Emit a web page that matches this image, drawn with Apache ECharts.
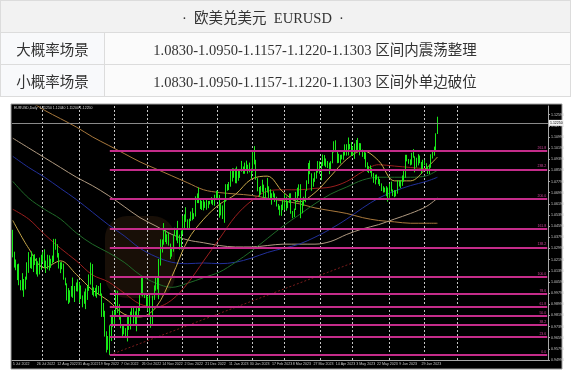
<!DOCTYPE html>
<html><head><meta charset="utf-8">
<script src="https://cdn.jsdelivr.net/npm/echarts@6/dist/echarts.min.js"></script>
<style>
html,body{margin:0;padding:0;background:#fff;width:571px;height:372px;overflow:hidden;}
#chart{position:absolute;left:0;top:0;width:571px;height:372px;}
table{position:absolute;left:0;top:0;width:571px;border-collapse:collapse;z-index:2;
  font-family:"Liberation Serif","Noto Sans CJK SC",serif;color:#333;font-size:14.5px;}
td{border:1px solid #dcdcdc;height:31px;padding:0;text-align:center;white-space:pre;}
td.hd{background:#f2f2f2;padding-right:45px;}
td.lc{width:103px;background:#f8f9fb;}
td.rc{background:#fbfbfb;padding-right:45px;}
</style></head>
<body>
<table id="tbl"></table>
<div id="chart"></div>
<script>
// ---------- table text ----------
const titleText = '·  欧美兑美元  EURUSD  ·';
const keyLevels = ['1.0830','1.0950','1.1157','1.1220','1.1303'];
const scenarioNames = ['大概率场景','小概率场景'];
const scenarioTexts = ['区间内震荡整理','区间外单边破位'];

// ---------- chart data (EURUSD daily, from 5 Jul 2022) ----------
const opens = [
1.0422,1.0266,1.0182,1.0160,
1.0185,1.0038,1.0035,1.0062,1.0019,
1.0080,1.0140,1.0225,1.0180,1.0230,
1.0212,1.0222,1.0122,1.0200,1.0195,
1.0220,1.0260,1.0165,1.0167,1.0245,
1.0180,1.0195,1.0212,1.0298,1.0320,
1.0260,1.0160,1.0170,1.0178,1.0088,
1.0040,0.9942,0.9966,0.9968,0.9970,
0.9964,1.0000,1.0020,1.0055,0.9945,
0.9955,0.9925,0.9903,1.0010,0.9998,
1.0041,1.0125,0.9970,0.9980,0.9996,
1.0015,1.0027,0.9970,0.9837,0.9838,
0.9690,0.9607,0.9592,0.9737,0.9814,
0.9800,0.9825,0.9987,0.9890,0.9792,
0.9743,0.9700,0.9707,0.9703,0.9780,
0.9722,0.9840,0.9857,0.9775,0.9782,
0.9862,0.9875,0.9965,1.0080,0.9966,
0.9966,0.9882,0.9874,0.9818,0.9748,
0.9960,1.0020,1.0073,1.0010,1.0208,
1.0356,1.0327,1.0352,1.0393,1.0362,
1.0325,1.0242,1.0302,1.0395,1.0405,
1.0400,1.0340,1.0330,1.0405,1.0520,
1.0535,1.0492,1.0468,1.0505,1.0557,
1.0533,1.0536,1.0630,1.0680,1.0625,
1.0585,1.0610,1.0625,1.0605,1.0593,
1.0617,1.0637,1.0640,1.0612,1.0660,
1.0705,1.0670,1.0547,1.0605,1.0520,
1.0645,1.0730,1.0735,1.0760,1.0850,
1.0830,1.0822,1.0788,1.0795,1.0832,
1.0855,1.0870,1.0885,1.0915,1.0890,
1.0868,1.0850,1.0862,1.0990,1.0910,
1.0795,1.0727,1.0725,1.0710,1.0740,
1.0678,1.0723,1.0740,1.0689,1.0675,
1.0693,1.0685,1.0650,1.0605,1.0595,
1.0545,1.0605,1.0577,1.0668,1.0596,
1.0633,1.0682,1.0550,1.0545,1.0582,
1.0640,1.0730,1.0732,1.0577,1.0610,
1.0668,1.0716,1.0770,1.0862,1.0832,
1.0760,1.0800,1.0842,1.0845,1.0905,
1.0838,1.0902,1.0955,1.0905,1.0920,
1.0900,1.0860,1.0912,1.0990,1.1045,
1.0990,1.0925,1.0970,1.0955,1.0966,
1.0990,1.1045,1.0975,1.1040,1.1025,
1.1015,1.0975,1.0995,1.1070,1.1010,
1.1020,1.1005,1.0962,1.0983,1.0915,
1.0850,1.0873,1.0862,1.0838,1.0770,
1.0805,1.0810,1.0770,1.0752,1.0725,
1.0720,1.0705,1.0735,1.0690,1.0760,
1.0708,1.0715,1.0695,1.0700,1.0780,
1.0750,1.0752,1.0790,1.0825,1.0945,
1.0940,1.0920,1.0915,1.0985,1.0955,
1.0895,1.0905,1.0960,1.0915,1.0865,
1.0910,1.0910,1.0880,1.0853,1.0890,
1.0968,1.0970,1.1010,1.1125];
const closes = [
1.0266,1.0182,1.0160,1.0185,
1.0038,1.0035,1.0062,1.0019,1.0080,
1.0140,1.0225,1.0180,1.0230,1.0212,
1.0222,1.0122,1.0200,1.0195,1.0220,
1.0260,1.0165,1.0167,1.0245,1.0180,
1.0195,1.0212,1.0298,1.0320,1.0260,
1.0160,1.0170,1.0178,1.0088,1.0040,
0.9942,0.9966,0.9968,0.9970,0.9964,
1.0000,1.0020,1.0055,0.9945,0.9955,
0.9925,0.9903,1.0010,0.9998,1.0041,
1.0125,0.9970,0.9980,0.9996,1.0015,
1.0027,0.9970,0.9837,0.9838,0.9690,
0.9607,0.9592,0.9737,0.9814,0.9800,
0.9825,0.9987,0.9890,0.9792,0.9743,
0.9700,0.9707,0.9703,0.9780,0.9722,
0.9840,0.9857,0.9775,0.9782,0.9862,
0.9875,0.9965,1.0080,0.9966,0.9966,
0.9882,0.9874,0.9818,0.9748,0.9960,
1.0020,1.0073,1.0010,1.0208,1.0356,
1.0327,1.0352,1.0393,1.0362,1.0325,
1.0242,1.0302,1.0395,1.0405,1.0400,
1.0340,1.0330,1.0405,1.0520,1.0535,
1.0492,1.0468,1.0505,1.0557,1.0533,
1.0536,1.0630,1.0680,1.0625,1.0585,
1.0610,1.0625,1.0605,1.0593,1.0617,
1.0637,1.0640,1.0612,1.0660,1.0705,
1.0670,1.0547,1.0605,1.0520,1.0645,
1.0730,1.0735,1.0760,1.0850,1.0830,
1.0822,1.0788,1.0795,1.0832,1.0855,
1.0870,1.0885,1.0915,1.0890,1.0868,
1.0850,1.0862,1.0990,1.0910,1.0795,
1.0727,1.0725,1.0710,1.0740,1.0678,
1.0723,1.0740,1.0689,1.0675,1.0693,
1.0685,1.0650,1.0605,1.0595,1.0545,
1.0605,1.0577,1.0668,1.0596,1.0633,
1.0682,1.0550,1.0545,1.0582,1.0640,
1.0730,1.0732,1.0577,1.0610,1.0668,
1.0716,1.0770,1.0862,1.0832,1.0760,
1.0800,1.0842,1.0845,1.0905,1.0838,
1.0902,1.0955,1.0905,1.0920,1.0900,
1.0860,1.0912,1.0990,1.1045,1.0990,
1.0925,1.0970,1.0955,1.0966,1.0990,
1.1045,1.0975,1.1040,1.1025,1.1015,
1.0975,1.0995,1.1070,1.1010,1.1020,
1.1005,1.0962,1.0983,1.0915,1.0850,
1.0873,1.0862,1.0838,1.0770,1.0805,
1.0810,1.0770,1.0752,1.0725,1.0720,
1.0705,1.0735,1.0690,1.0760,1.0708,
1.0715,1.0695,1.0700,1.0780,1.0750,
1.0752,1.0790,1.0825,1.0945,1.0940,
1.0920,1.0915,1.0985,1.0955,1.0895,
1.0905,1.0960,1.0915,1.0865,1.0910,
1.0910,1.0880,1.0853,1.0890,1.0968,
1.0970,1.1010,1.1125,1.1225];
const lows = [
1.0235,1.0162,1.0143,1.0072,
1.0035,0.9999,0.9998,0.9952,1.0005,
1.0075,1.0124,1.0158,1.0153,1.0130,
1.0180,1.0113,1.0097,1.0113,1.0146,
1.0200,1.0160,1.0123,1.0150,1.0141,
1.0160,1.0190,1.0202,1.0290,1.0234,
1.0155,1.0122,1.0150,1.0075,1.0035,
0.9926,0.9901,0.9911,0.9953,0.9945,
0.9915,0.9992,0.9990,0.9910,0.9936,
0.9877,0.9902,0.9864,0.9930,0.9995,
1.0040,0.9966,0.9955,0.9956,0.9945,
0.9966,0.9963,0.9808,0.9808,0.9667,
0.9553,0.9572,0.9535,0.9635,0.9737,
0.9750,0.9823,0.9836,0.9788,0.9727,
0.9670,0.9683,0.9665,0.9632,0.9715,
0.9718,0.9808,0.9760,0.9755,0.9705,
0.9807,0.9850,0.9962,0.9955,0.9943,
0.9880,0.9853,0.9812,0.9730,0.9746,
0.9930,0.9996,1.0005,0.9935,1.0176,
1.0270,1.0326,1.0345,1.0330,1.0320,
1.0223,1.0240,1.0276,1.0390,1.0356,
1.0337,1.0291,1.0292,1.0400,1.0445,
1.0490,1.0443,1.0438,1.0495,1.0501,
1.0510,1.0528,1.0625,1.0624,1.0582,
1.0575,1.0572,1.0590,1.0577,1.0588,
1.0615,1.0620,1.0610,1.0605,1.0660,
1.0653,1.0520,1.0536,1.0510,1.0483,
1.0634,1.0713,1.0718,1.0742,1.0779,
1.0806,1.0767,1.0766,1.0785,1.0805,
1.0850,1.0835,1.0835,1.0868,1.0836,
1.0845,1.0800,1.0845,1.0902,1.0792,
1.0709,1.0669,1.0685,1.0705,1.0659,
1.0658,1.0700,1.0659,1.0655,1.0613,
1.0665,1.0633,1.0600,1.0577,1.0536,
1.0533,1.0574,1.0575,1.0570,1.0588,
1.0625,1.0548,1.0516,1.0525,1.0575,
1.0633,1.0675,1.0516,1.0551,1.0605,
1.0631,1.0712,1.0762,1.0832,1.0713,
1.0742,1.0777,1.0800,1.0843,1.0835,
1.0788,1.0890,1.0893,1.0882,1.0876,
1.0832,1.0856,1.0910,1.0988,1.0990,
1.0911,1.0913,1.0908,1.0938,1.0935,
1.0966,1.0965,1.0966,1.1010,1.0962,
1.0967,1.0942,1.0990,1.1006,1.0967,
1.0996,1.0956,1.0940,1.0880,1.0848,
1.0840,1.0842,1.0813,1.0770,1.0759,
1.0793,1.0760,1.0747,1.0711,1.0700,
1.0702,1.0674,1.0635,1.0662,1.0707,
1.0675,1.0667,1.0673,1.0692,1.0743,
1.0732,1.0748,1.0778,1.0806,1.0924,
1.0906,1.0895,1.0900,1.0950,1.0845,
1.0880,1.0895,1.0910,1.0835,1.0860,
1.0896,1.0868,1.0834,1.0833,1.0878,
1.0944,1.0965,1.1000,1.1120];
const highs = [
1.0433,1.0276,1.0220,1.0186,
1.0190,1.0072,1.0122,1.0080,1.0097,
1.0200,1.0273,1.0237,1.0278,1.0254,
1.0258,1.0230,1.0207,1.0234,1.0254,
1.0275,1.0293,1.0212,1.0254,1.0250,
1.0225,1.0248,1.0368,1.0368,1.0330,
1.0266,1.0200,1.0201,1.0190,1.0090,
1.0049,1.0015,0.9999,1.0030,1.0091,
1.0030,1.0055,1.0078,1.0056,1.0034,
0.9962,0.9990,1.0012,1.0030,1.0113,
1.0198,1.0187,1.0020,1.0017,1.0036,
1.0030,1.0051,0.9976,0.9908,0.9852,
0.9705,0.9671,0.9748,0.9815,0.9853,
0.9854,0.9999,0.9996,0.9899,0.9808,
0.9753,0.9748,0.9728,0.9807,0.9809,
0.9846,0.9876,0.9875,0.9848,0.9871,
0.9876,0.9976,1.0089,1.0094,0.9978,
0.9975,0.9953,0.9977,0.9821,0.9960,
1.0034,1.0094,1.0096,1.0224,1.0365,
1.0364,1.0481,1.0436,1.0401,1.0415,
1.0334,1.0307,1.0397,1.0448,1.0430,
1.0497,1.0398,1.0428,1.0533,1.0544,
1.0595,1.0508,1.0513,1.0564,1.0589,
1.0552,1.0673,1.0694,1.0736,1.0651,
1.0641,1.0658,1.0635,1.0658,1.0640,
1.0640,1.0667,1.0652,1.0685,1.0713,
1.0713,1.0683,1.0620,1.0608,1.0647,
1.0760,1.0761,1.0776,1.0868,1.0874,
1.0873,1.0873,1.0887,1.0856,1.0860,
1.0927,1.0887,1.0915,1.0929,1.0900,
1.0915,1.0872,1.1000,1.1033,1.0935,
1.0804,1.0740,1.0747,1.0792,1.0757,
1.0734,1.0805,1.0745,1.0724,1.0695,
1.0710,1.0694,1.0670,1.0618,1.0606,
1.0613,1.0646,1.0691,1.0671,1.0640,
1.0694,1.0695,1.0568,1.0585,1.0705,
1.0735,1.0759,1.0760,1.0636,1.0670,
1.0716,1.0788,1.0912,1.0930,1.0838,
1.0802,1.0845,1.0860,1.0926,1.0924,
1.0918,1.0973,1.0969,1.0945,1.0926,
1.0915,1.0925,1.0998,1.1068,1.1075,
1.0995,1.0978,1.0971,1.0972,1.0996,
1.1046,1.1047,1.1095,1.1048,1.1062,
1.1030,1.1052,1.1077,1.1092,1.1055,
1.1054,1.1008,1.1002,1.0987,1.0917,
1.0890,1.0895,1.0875,1.0840,1.0828,
1.0830,1.0815,1.0797,1.0766,1.0746,
1.0736,1.0746,1.0736,1.0764,1.0779,
1.0722,1.0718,1.0717,1.0788,1.0786,
1.0788,1.0823,1.0865,1.0971,1.0971,
1.0941,1.0938,1.0985,1.1012,1.0960,
1.0950,1.0976,1.0966,1.0920,1.0935,
1.0935,1.0911,1.0887,1.0900,1.0975,
1.0998,1.1030,1.1125,1.1244];

// moving averages, read at these bar positions
const maIdx = [0,10,20,30,40,50,60,70,80,90,100,110,120,130,140,150,160,170,180,190,200,210,220,230,240,250,260,267];
const ma20  = [1.0500,1.0300,1.0160,1.0210,1.0112,1.0002,0.9924,0.9828,0.9808,0.9877,1.0097,1.0358,1.0509,1.0616,1.0687,1.0796,1.0818,1.0703,1.0634,1.0700,1.0819,1.0940,1.1000,1.0928,1.0784,1.0784,1.0875,1.0955];
const ma50  = [1.058,1.051,1.040,1.030,1.021,1.011,1.006,0.998,0.990,0.988,0.993,1.005,1.021,1.037,1.053,1.064,1.071,1.072,1.072,1.073,1.074,1.078,1.085,1.090,1.089,1.088,1.087,1.086];
const ma100 = [1.078,1.066,1.058,1.051,1.041,1.033,1.027,1.020,1.011,1.005,1.002,1.005,1.009,1.013,1.020,1.028,1.037,1.046,1.054,1.062,1.069,1.074,1.079,1.081,1.081,1.081,1.082,1.086];
const ma150 = [1.096,1.088,1.081,1.073,1.065,1.056,1.047,1.039,1.030,1.024,1.020,1.019,1.0195,1.019,1.020,1.023,1.027,1.030,1.033,1.038,1.044,1.051,1.059,1.066,1.071,1.075,1.078,1.081];
const ma200 = [1.109,1.102,1.095,1.088,1.081,1.075,1.068,1.060,1.052,1.046,1.040,1.036,1.034,1.032,1.031,1.031,1.032,1.033,1.033,1.033,1.035,1.040,1.044,1.047,1.051,1.055,1.060,1.066];
const maLong = [1.142,1.136,1.129,1.123,1.117,1.110,1.104,1.098,1.092,1.087,1.082,1.077,1.072,1.070,1.069,1.068,1.066,1.064,1.062,1.059,1.057,1.055,1.052,1.050,1.049,1.048,1.048,1.048];

// trend line from the September low
const trendDates  = ['28 Sep 2022','1 May 2023'];
const trendValues = [0.9535, 1.0197];

// Fibonacci levels drawn from the 28 Sep 2022 low
const fibStartDate = '28 Sep 2022';
const fibPrices = [0.9535,0.9667,0.9749,0.9815,0.9880,0.9974,1.0094,1.0307,1.0440,1.0653,1.0867,1.0999];
const fibLabels = ['0.0','23.6','38.2','50.0','61.8','78.6','100.0','138.2','161.8','200.0','238.2','261.8'];

// axis labels
const dateLabels = ['5 Jul 2022','26 Jul 2022','12 Aug 2022','31 Aug 2022','19 Sep 2022','7 Oct 2022','26 Oct 2022','14 Nov 2022','2 Dec 2022','21 Dec 2022','11 Jan 2023','30 Jan 2023','17 Feb 2023','8 Mar 2023','27 Mar 2023','14 Apr 2023','3 May 2023','22 May 2023','9 Jun 2023','29 Jun 2023'];
const gridDates = ['1 Aug 2022','1 Sep 2022','3 Oct 2022','1 Nov 2022','1 Dec 2022','2 Jan 2023','1 Feb 2023','1 Mar 2023','3 Apr 2023','1 May 2023','1 Jun 2023','3 Jul 2023','1 Aug 2023'];
const priceMin = 0.9499, priceMax = 1.1321, priceStep = 0.0080;

// ---------- build table ----------
(function(){
  const t = document.getElementById('tbl');
  let h = '<tr><td colspan="2" class="hd">' + titleText + '</td></tr>';
  for (let k = 0; k < scenarioNames.length; k++) {
    h += '<tr><td class="lc">' + scenarioNames[k] + '</td><td class="rc">' + keyLevels.join('-') + ' ' + scenarioTexts[k] + '</td></tr>';
  }
  t.innerHTML = h;
})();

// ---------- categories: trading days, plus empty space on the right ----------
const MON = ['Jan','Feb','Mar','Apr','May','Jun','Jul','Aug','Sep','Oct','Nov','Dec'];
const categories = [];
(function(){
  let t = Date.UTC(2022, 6, 5);
  while (categories.length < 337) {
    const d = new Date(t);
    const wd = d.getUTCDay();
    if (wd !== 0 && wd !== 6) categories.push(d.getUTCDate() + ' ' + MON[d.getUTCMonth()] + ' ' + d.getUTCFullYear());
    t += 86400000;
  }
})();

const candleData = opens.map((o, i) => [o, closes[i], lows[i], highs[i]]);
const lastIdx = closes.length - 1;
const bidPrice = closes[lastIdx];
const labelSet = new Set(dateLabels);
const gridSet = new Set(gridDates);

const FIB_COLOR = '#c42c8a';
const markData = fibPrices.map((p, k) => [
  { coord: [fibStartDate, p],
    label: { show: true, formatter: fibLabels[k], position: 'insideEndTop', color: '#d0449a', fontSize: 3.5, distance: 1 } },
  { coord: [categories[categories.length - 1], p] }
]);
markData.push({
  yAxis: bidPrice,
  lineStyle: { color: '#8a8a8a', width: 1, type: 'solid' },
  label: { show: true, position: 'end', formatter: bidPrice.toFixed(5), backgroundColor: '#f2f2f2',
           color: '#000', fontSize: 3.5, padding: [1, 1], distance: 1 }
});

function maSeries(vals, color, width) {
  return { type: 'line', data: maIdx.map((i, k) => [i, vals[k]]), symbol: 'none', showSymbol: false,
           smooth: 0.35, lineStyle: { color: color, width: width || 1 }, z: 2, silent: true };
}

const chart = echarts.init(document.getElementById('chart'), null, { renderer: 'canvas' });
chart.setOption({
  animation: false,
  backgroundColor: 'transparent',
  textStyle: { fontFamily: 'Liberation Sans, Arial, sans-serif' },
  graphic: [
    { type: 'rect', z: -10, shape: { x: 11, y: 104, width: 551, height: 265 },
      style: { fill: '#000', stroke: '#a0a0a0', lineWidth: 1 } },
    { type: 'rect', z: -9, shape: { x: 105, y: 216, width: 70, height: 82, r: 22 },
      style: { fill: 'rgba(110,70,30,0.22)' } },
    { type: 'text', z: 10, x: 14, y: 106,
      style: { text: 'EURUSD,Daily  ' + opens[lastIdx].toFixed(5) + ' ' + highs[lastIdx].toFixed(5) + ' ' + lows[lastIdx].toFixed(5) + ' ' + closes[lastIdx].toFixed(5),
               fill: '#d8d8d8', fontSize: 3.5, fontFamily: 'Liberation Sans' } }
  ],
  grid: { left: 12, right: 23, top: 106, bottom: 12, containLabel: false },
  xAxis: {
    type: 'category', data: categories, boundaryGap: true,
    axisLine: { show: true, lineStyle: { color: '#a8a8a8', width: 1 } },
    axisTick: { show: false },
    axisLabel: { interval: (i, v) => labelSet.has(v), color: '#c8c8c8', fontSize: 3.6, align: 'left', margin: 2 },
    splitLine: { show: true, interval: (i, v) => gridSet.has(v), lineStyle: { color: '#c4c4c4', width: 1, type: [2, 2] } }
  },
  yAxis: {
    type: 'value', position: 'right', min: priceMin, max: priceMax, interval: priceStep,
    axisLine: { show: true, lineStyle: { color: '#a8a8a8', width: 1 } },
    axisTick: { show: true, length: 2, lineStyle: { color: '#a8a8a8' } },
    axisLabel: { color: '#c8c8c8', fontSize: 3.6, margin: 3, showMaxLabel: false, formatter: v => v.toFixed(5) },
    splitLine: { show: false }
  },
  series: [
    maSeries(maLong, '#a8783c'),
    maSeries(ma200, '#b09a80'),
    maSeries(ma150, '#22309a'),
    maSeries(ma100, '#1f6a28'),
    maSeries(ma50, '#9a1e1e'),
    maSeries(ma20, '#c8a84a'),
    { type: 'line', data: trendDates.map((d, k) => [d, trendValues[k]]), symbol: 'none',
      lineStyle: { color: '#7a1c1c', width: 1, type: [2, 2] }, z: 2, silent: true },
    { type: 'candlestick', data: candleData, barWidth: 1.2, z: 3,
      itemStyle: { color: '#18e818', color0: '#18e818', borderColor: '#18e818', borderColor0: '#18e818', borderWidth: 1 },
      markLine: { silent: true, symbol: ['none', 'none'], animation: false,
                  lineStyle: { color: FIB_COLOR, width: 2, type: 'solid' }, data: markData } }
  ]
});
</script>
</body></html>
